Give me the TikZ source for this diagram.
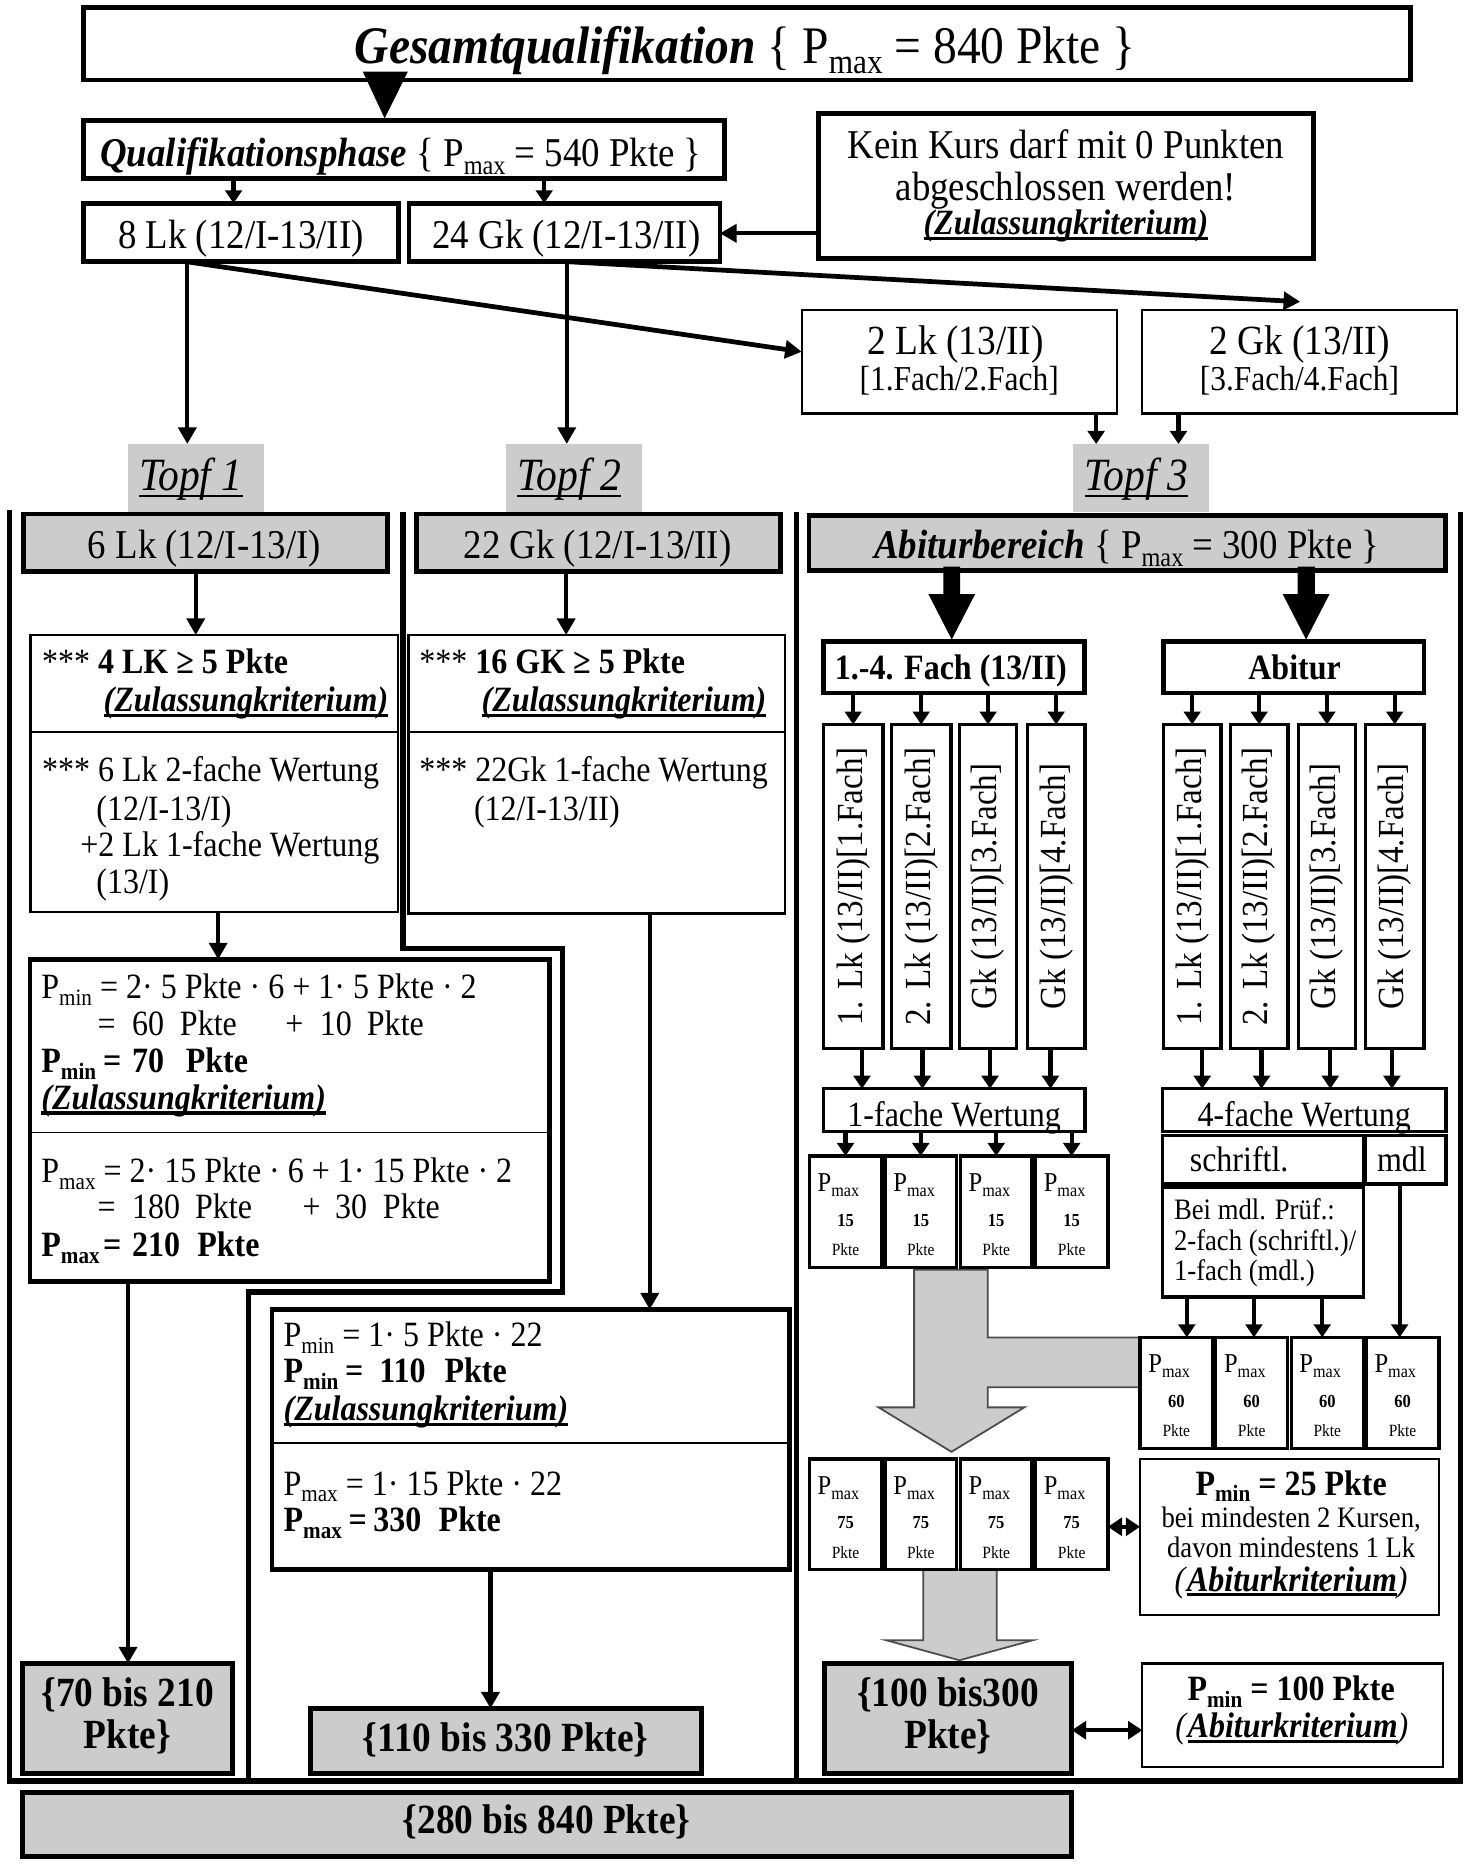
\documentclass[tikz,border=0pt]{standalone}
\usepackage{fontspec}
\setmainfont[FakeStretch=0.9]{Liberation Serif}
\usepackage{graphicx}
\usetikzlibrary{arrows.meta,fit}
\definecolor{gfill}{HTML}{CCCCCC}
\newsavebox\myulbox
\newcommand\myul[2][0.09em]{\sbox\myulbox{#2}\rlap{\rule[-0.15em]{\wd\myulbox}{#1}}\usebox\myulbox}
\newcommand\Ps[1]{P\raisebox{-0.19em}{\scalebox{0.66}{#1}}}
\newcommand\fs[1]{\fontsize{#1}{#1}\selectfont}
\newcommand\zk{\textbf{\textit{\myul{(Zulassungkriterium)}}}}
\newcommand\ak{\textit{(}\textbf{\textit{\myul{Abiturkriterium}}}\textit{)}}
\newcommand\pxbox[4]{%
 \node[bxB,fit={#2 #3}] (#1) {};
 \node[tl] (#1p) at ([xshift=7pt,yshift=-29.6pt]#1.north west) {\fs{23}\Ps{max}};
 \node (#1n) at ([yshift=-54pt]#1.north) {\fs{15.5}\textbf{#4}};
 \node (#1k) at ([yshift=-79pt]#1.north) {\fs{14.5}Pkte};}
\begin{document}
\begin{tikzpicture}[x=1pt,y=-1pt,
  every node/.style={inner sep=0pt,outer sep=0pt},
  bxA/.style={draw,line width=4pt},
  bxB/.style={draw,line width=2.8pt},
  bxC/.style={draw,line width=2pt},
  gbx/.style={bxA,fill=gfill},
  wall/.style={line width=4.5pt},
  sep/.style={line width=1.5pt},
  arr/.style={line width=3.5pt,-{Triangle[length=14pt,width=15pt]}},
  sarr/.style={line width=3.5pt,-{Triangle[length=11pt,width=14pt]}},
  darr/.style={line width=3.5pt,{Triangle[length=12pt,width=15pt]}-{Triangle[length=12pt,width=15pt]}},
  garr/.style={fill=gfill,draw=black!70,line width=1.5pt},
  tc/.style={anchor=base},
  tl/.style={anchor=base west}]
\fill[white] (0,0) rectangle (1240,1573);
\useasboundingbox (0,0) rectangle (1240,1573);

% ---------- top ----------
\node[bxA,fit={(70.4,6.2)(1189.5,67.5)}] (title) {};
\node[tc] (titleT) at (628.5,53.4) {\fs{44.5}\textbf{\textit{Gesamtqualifikation}} \{ \Ps{max} = 840 Pkte \}};
\fill (306,60.5) -- (344,60.5) -- (324.4,99.8) -- cycle;

\node[bxA,fit={(70.4,101.8)(611,150.4)}] (qual) {};
\node[tc] (qualT) at (338.2,140.6) {\fs{34.5}\textbf{\textit{Qualifikationsphase}} \{ \Ps{max} = 540 Pkte \}};
\node[bxA,fit={(70.4,171.5)(336.3,220.7)}] (lk8) {};
\node[tc] (lk8T) at (203.2,209.5) {\fs{34.5}8 Lk (12/I-13/II)};
\node[bxA,fit={(345,171.5)(607.2,220.7)}] (gk24) {};
\node[tc] (gk24T) at (477.7,209.5) {\fs{34.5}24 Gk (12/I-13/II)};
\node[bxA,fit={(690.4,95.6)(1107.6,217.9)}] (kein) {};
\node[tc] (kein1) at (899,133.6) {\fs{34.5}Kein Kurs darf mit 0 Punkten};
\node[tc] (kein2) at (899,168.7) {\fs{34.5}abgeschlossen werden!};
\node[tc] (kein3) at (899,198.2) {\fs{30}\zk};

\draw[sarr] (qual.south -| 197,0) -- (lk8.north -| 197,0);
\draw[sarr] (qual.south -| 459,0) -- (gk24.north -| 459,0);
\draw[arr] (kein.west |- 0,196.8) -- (gk24.east |- 0,196.8);

\node[bxC,fit={(676.2,261.5)(942.3,348.7)}] (lk2) {};
\node[tc] (lk2a) at (806,299) {\fs{35}2 Lk (13/II)};
\node[tc] (lk2b) at (809,329.5) {\fs{29.5}[1.Fach/2.Fach]};
\node[bxC,fit={(963.2,261.5)(1229,348.7)}] (gk2) {};
\node[tc] (gk2a) at (1096,299) {\fs{35}2 Gk (13/II)};
\node[tc] (gk2b) at (1096,329.5) {\fs{29.5}[3.Fach/4.Fach]};

\coordinate (gkend) at (1096.6,254.5);
\draw[arr,line width=4pt] (lk8.south -| 157,0) -- (lk2.west |- 0,296.7);
\draw[arr,line width=4pt] (gk24.south -| 478,0) -- (gkend);

% ---------- Topf labels ----------
\node[fill=gfill,fit={(107.6,374.5)(222.3,432)}] (topf1) {};
\node[tc] (topf1T) at (161,413.3) {\fs{39}\textit{\myul[0.05em]{Topf 1}}};
\node[fill=gfill,fit={(426.5,374.5)(541.2,432)}] (topf2) {};
\node[tc] (topf2T) at (480,413.3) {\fs{39}\textit{\myul[0.05em]{Topf 2}}};
\node[fill=gfill,fit={(905.4,374.5)(1019.3,432)}] (topf3) {};
\node[tc] (topf3T) at (958.5,413.3) {\fs{39}\textit{\myul[0.05em]{Topf 3}}};

\draw[arr] (lk8.south -| 158,0) -- (topf1.north -| 158,0);
\draw[arr] (gk24.south -| 478,0) -- (topf2.north -| 478,0);
\draw[sarr] (lk2.south -| 924.5,0) -- (topf3.north -| 924.5,0);
\draw[sarr] (gk2.south -| 994,0) -- (topf3.north -| 994,0);

% ---------- walls ----------
\draw[wall] (8,430) -- (8,1502) -- (1232,1502) -- (1232,432);
\draw[wall] (340,432) -- (340,800) -- (474.5,800) -- (474.5,1089.6) -- (209.5,1089.6) -- (209.5,1502);
\draw[wall] (672,432) -- (672,1502);

% ---------- column 1 ----------
\node[gbx,fit={(19.6,433.6)(326.9,482.2)}] (lk6) {};
\node[tc] (lk6T) at (172.5,471) {\fs{34.5}6 Lk (12/I-13/I)};
\node[bxC,fit={(25.6,535.6)(335.9,769)}] (c1a) {};
\draw[sep] (c1a.west |- 0,617.7) -- (c1a.east |- 0,617.7);
\draw[arr] (lk6.south -| 165.1,0) -- (c1a.north -| 165.1,0);
\node[tl] (c1a1) at (35.5,568) {\fs{30}*** \textbf{4 LK ≥ 5 Pkte}};
\node[tl] (c1a2) at (87.4,600.3) {\fs{30}\zk};
\node[tl] (c1a3) at (35.5,659.4) {\fs{30}*** 6 Lk 2-fache Wertung};
\node[tl] (c1a4) at (81.3,691.7) {\fs{30}(12/I-13/I)};
\node[tl] (c1a5) at (67.8,722.6) {\fs{30}+2 Lk 1-fache Wertung};
\node[tl] (c1a6) at (81.3,753.5) {\fs{30}(13/I)};

\node[bxA,fit={(25.2,809.2)(463.6,1081.1)}] (c1b) {};
\draw[sep] (c1b.west |- 0,955.2) -- (c1b.east |- 0,955.2);
\draw[arr] (c1a.south -| 184,0) -- (c1b.north -| 184,0);
\node[tl] (c1b1) at (34.9,842.1) {\fs{30}\Ps{min} = 2· 5 Pkte · 6 + 1· 5 Pkte · 2};
\node[tl] (c1b2) at (82.4,873) {\fs{30}\makebox[29.1pt][l]{=}\makebox[40.3pt][l]{60}\makebox[88.9pt][l]{Pkte}\makebox[29.1pt][l]{+}\makebox[39.7pt][l]{10}Pkte};
\node[tl] (c1b3) at (34.9,904.5) {\fs{30}\bfseries\makebox[52.1pt][l]{\Ps{min}}\makebox[24.5pt][l]{=}\makebox[45.2pt][l]{70}Pkte};
\node[tl] (c1b4) at (34.9,935.5) {\fs{30}\zk};
\node[tl] (c1b5) at (34.9,997.6) {\fs{30}\Ps{max} = 2· 15 Pkte · 6 + 1· 15 Pkte · 2};
\node[tl] (c1b6) at (82.4,1027.7) {\fs{30}\makebox[29.1pt][l]{=}\makebox[53.1pt][l]{180}\makebox[90.6pt][l]{Pkte}\makebox[27.5pt][l]{+}\makebox[40.3pt][l]{30}Pkte};
\node[tl] (c1b7) at (34.9,1060) {\fs{30}\bfseries\makebox[52.1pt][l]{\Ps{max}}\makebox[24.5pt][l]{=}\makebox[54.9pt][l]{210}Pkte};

\node[gbx,fit={(19.2,1403)(196.4,1495.8)}] (r1) {};
\node[tc] (r1a) at (107.6,1439.6) {\fs{35}\textbf{\{70 bis 210}};
\node[tc] (r1b) at (107.6,1474.8) {\fs{35}\textbf{Pkte\}}};
\draw[arr] (c1b.south -| 108,0) -- (r1.north -| 108,0);

% ---------- column 2 ----------
\node[gbx,fit={(351.5,433.6)(658,482.2)}] (gk22) {};
\node[tc] (gk22T) at (504,471) {\fs{34.5}22 Gk (12/I-13/II)};
\node[bxC,fit={(344.4,535.6)(662.2,770.4)}] (c2a) {};
\draw[sep] (c2a.west |- 0,617.7) -- (c2a.east |- 0,617.7);
\draw[arr] (gk22.south -| 477.5,0) -- (c2a.north -| 477.5,0);
\node[tl] (c2a1) at (353.7,568) {\fs{30}*** \textbf{16 GK ≥ 5 Pkte}};
\node[tl] (c2a2) at (406.3,600.3) {\fs{30}\zk};
\node[tl] (c2a3) at (353.7,659.4) {\fs{30}*** 22Gk 1-fache Wertung};
\node[tl] (c2a4) at (399.8,691.7) {\fs{30}(12/I-13/II)};

\node[bxA,fit={(229.5,1104.5)(666,1323.8)}] (c2b) {};
\draw[sep] (c2b.west |- 0,1217) -- (c2b.east |- 0,1217);
\draw[arr] (c2a.south -| 548,0) -- (c2b.north -| 548,0);
\node[tl] (c2b1) at (239.2,1136) {\fs{30}\Ps{min} = 1· 5 Pkte · 22};
\node[tl] (c2b2) at (239.2,1166.4) {\fs{30}\bfseries\makebox[51.8pt][l]{\Ps{min}}\makebox[29pt][l]{=}\makebox[55pt][l]{110}Pkte};
\node[tl] (c2b3) at (239.2,1198.3) {\fs{30}\zk};
\node[tl] (c2b4) at (239.2,1261.1) {\fs{30}\Ps{max} = 1· 15 Pkte · 22};
\node[tl] (c2b5) at (239.2,1292) {\fs{30}\bfseries\makebox[54.8pt][l]{\Ps{max}}\makebox[21pt][l]{=}\makebox[55pt][l]{330}Pkte};

\node[gbx,fit={(261.7,1441)(591.6,1495.8)}] (r2) {};
\node[tc] (r2T) at (426.6,1477.6) {\fs{35}\textbf{\{110 bis 330 Pkte\}}};
\draw[arr] (c2b.south -| 413.7,0) -- (r2.north -| 413.7,0);

% ---------- column 3 ----------
\node[gbx,fit={(682.4,434.5)(1219,481.2)}] (abb) {};
\node[tc] (abbT) at (950.4,471.2) {\fs{34.5}\textbf{\textit{Abiturbereich}} \{ \Ps{max} = 300 Pkte \}};
\fill (795.6,478) -- (809.8,478) -- (809.8,501) -- (822.5,501) -- (802.7,539.4) -- (783,501) -- (795.6,501) -- cycle;
\fill (1094.5,478) -- (1108.9,478) -- (1108.9,501) -- (1121.4,501) -- (1101.6,539.4) -- (1081.8,501) -- (1094.5,501) -- cycle;

\node[bxA,fit={(694.5,541.1)(915,584.4)}] (f14) {};
\node[tc] (f14T) at (802,573) {\fs{30}\textbf{1.-4. Fach (13/II)}};
\node[bxA,fit={(981.3,541.1)(1201,584.4)}] (abi) {};
\node[tc] (abiT) at (1091.9,573) {\fs{30}\textbf{Abitur}};

\node[bxB,fit={(694.5,611.1)(744.7,884.4)}] (v1) {};
\node[bxB,fit={(751.9,611.1)(802,884.4)}] (v2) {};
\node[bxB,fit={(809.2,611.1)(857.6,884.4)}] (v3) {};
\node[bxB,fit={(866.6,611.1)(915,884.4)}] (v4) {};
\node[bxB,fit={(981.3,611.1)(1029.7,884.4)}] (a1) {};
\node[bxB,fit={(1037.6,611.1)(1086.4,884.4)}] (a2) {};
\node[bxB,fit={(1095,611.1)(1143.4,884.4)}] (a3) {};
\node[bxB,fit={(1151.6,611.1)(1201.1,884.4)}] (a4) {};
\node[rotate=90] (v1T) at (v1.center) {\fs{31}1. Lk (13/II)[1.Fach]};
\node[rotate=90] (v2T) at (v2.center) {\fs{31}2. Lk (13/II)[2.Fach]};
\node[rotate=90] (v3T) at (v3.center) {\fs{31}Gk (13/II)[3.Fach]};
\node[rotate=90] (v4T) at (v4.center) {\fs{31}Gk (13/II)[4.Fach]};
\node[rotate=90] (a1T) at (a1.center) {\fs{31}1. Lk (13/II)[1.Fach]};
\node[rotate=90] (a2T) at (a2.center) {\fs{31}2. Lk (13/II)[2.Fach]};
\node[rotate=90] (a3T) at (a3.center) {\fs{31}Gk (13/II)[3.Fach]};
\node[rotate=90] (a4T) at (a4.center) {\fs{31}Gk (13/II)[4.Fach]};
\foreach \n in {v1,v2,v3,v4}{\draw[sarr] (f14.south -| \n.north) -- (\n.north);}
\foreach \n in {a1,a2,a3,a4}{\draw[sarr] (abi.south -| \n.north) -- (\n.north);}

\node[bxB,fit={(694.5,918.3)(915,954.4)}] (w1) {};
\node[tc] (w1T) at (804.75,950.5) {\fs{30}1-fache Wertung};
\node[bxB,fit={(980.6,918.3)(1219.7,954.4)}] (w4) {};
\node[tc] (w4T) at (1100,950.5) {\fs{30}4-fache Wertung};
\draw[sarr] (v1.south -| 727,0) -- (w1.north -| 727,0);
\draw[sarr] (v2.south -| 778,0) -- (w1.north -| 778,0);
\draw[sarr] (v3.south -| 835,0) -- (w1.north -| 835,0);
\draw[sarr] (v4.south -| 886,0) -- (w1.north -| 886,0);
\draw[sarr] (a1.south -| 1014,0) -- (w4.north -| 1014,0);
\draw[sarr] (a2.south -| 1064,0) -- (w4.north -| 1064,0);
\draw[sarr] (a3.south -| 1122,0) -- (w4.north -| 1122,0);
\draw[sarr] (a4.south -| 1174,0) -- (w4.north -| 1174,0);

\node[bxB,fit={(980.6,957.5)(1150,998.7)}] (schr) {};
\node[tl] (schrT) at (1003.5,988) {\fs{30}schriftl.};
\node[bxB,fit={(1151.6,957.5)(1219.7,998.7)}] (mdl) {};
\node[tl] (mdlT) at (1161.4,988) {\fs{30}mdl};
\node[bxB,fit={(980.6,1001.7)(1150,1094)}] (bei) {};
\node[tl] (bei1) at (990.2,1028.8) {\fs{25}Bei mdl. Prüf.:};
\node[tl] (bei2) at (990.2,1054.4) {\fs{25}2-fach (schriftl.)/};
\node[tl] (bei3) at (990.2,1080) {\fs{25}1-fach (mdl.)};

% gray arrows
\filldraw[garr] (771,1071) -- (833,1071) -- (833,1128) -- (961.6,1128) -- (961.6,1170) -- (833,1170) -- (833,1187) -- (864,1187) -- (802.5,1224.5) -- (741,1187) -- (771,1187) -- cycle;
\filldraw[garr] (778.6,1324) -- (840.6,1324) -- (840.6,1383.4) -- (871.1,1383.4) -- (809.2,1400.3) -- (747.4,1383.4) -- (778.6,1383.4) -- cycle;

\pxbox{q1}{(682.7,975)}{(743.6,1069)}{15}
\pxbox{q2}{(746.5,975)}{(806.7,1069)}{15}
\pxbox{q3}{(810,975)}{(870.5,1069)}{15}
\pxbox{q4}{(873.4,975)}{(934.4,1069)}{15}
\foreach \n in {q1,q2,q3,q4}{\draw[sarr] (w1.south -| \n.north) -- (\n.north);}

\pxbox{s1}{(961.6,1128)}{(1022.6,1221.5)}{60}
\pxbox{s2}{(1025.4,1128)}{(1086,1221.5)}{60}
\pxbox{s3}{(1089,1128)}{(1150,1221.5)}{60}
\pxbox{s4}{(1152.3,1128)}{(1213.6,1221.5)}{60}
\draw[sarr] (bei.south -| 1001,0) -- (s1.north -| 1001,0);
\draw[sarr] (bei.south -| 1057.6,0) -- (s2.north -| 1057.6,0);
\draw[sarr] (bei.south -| 1115.2,0) -- (s3.north -| 1115.2,0);
\draw[sarr] (mdl.south -| 1180.5,0) -- (s4.north -| 1180.5,0);

\pxbox{u1}{(682.7,1230.5)}{(743.6,1324)}{75}
\pxbox{u2}{(746.5,1230.5)}{(806.7,1324)}{75}
\pxbox{u3}{(810,1230.5)}{(870.5,1324)}{75}
\pxbox{u4}{(873.4,1230.5)}{(934.4,1324)}{75}

\node[bxC,fit={(961.6,1230.5)(1213.6,1362.3)}] (pm25) {};
\node[tc] (pm25a) at (1089,1261) {\fs{30}\textbf{\Ps{min} = 25 Pkte}};
\node[tc] (pm25b) at (1089,1288.2) {\fs{25}bei mindesten 2 Kursen,};
\node[tc] (pm25c) at (1089,1313.3) {\fs{25}davon mindestens 1 Lk};
\node[tc] (pm25d) at (1089,1342) {\fs{30}\ak};
\draw[darr] (u4.east |- 0,1287.7) -- (pm25.west |- 0,1287.7);

\node[gbx,fit={(695.7,1403)(904,1495.8)}] (r3) {};
\node[tc] (r3a) at (799.6,1439.6) {\fs{35}\textbf{\{100 bis300}};
\node[tc] (r3b) at (799.6,1474.8) {\fs{35}\textbf{Pkte\}}};
\node[bxC,fit={(963.4,1403)(1217,1490.2)}] (pm100) {};
\node[tc] (pm100a) at (1089,1434.4) {\fs{30}\textbf{\Ps{min} = 100 Pkte}};
\node[tc] (pm100b) at (1089.6,1465.5) {\fs{30}\ak};
\draw[darr] (r3.east |- 0,1459.3) -- (pm100.west |- 0,1459.3);

% ---------- total ----------
\node[gbx,fit={(19.2,1511.9)(904,1565.6)}] (tot) {};
\node[tc] (totT) at (461,1546.5) {\fs{35}\textbf{\{280 bis 840 Pkte\}}};
\end{tikzpicture}
\end{document}
